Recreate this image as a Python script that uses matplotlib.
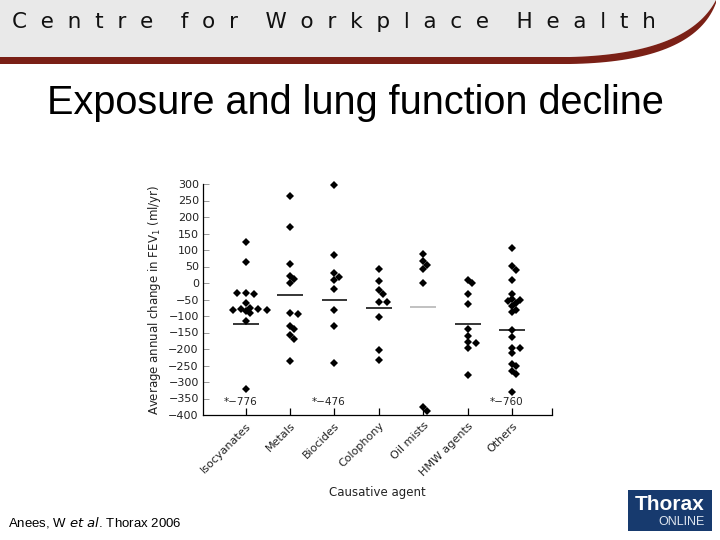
import numpy as np
import matplotlib
matplotlib.use("Agg")
import matplotlib.pyplot as plt
from matplotlib.patches import Polygon, Rectangle

# ---------------- data ----------------
categories = ["Isocyanates", "Metals", "Biocides", "Colophony", "Oil mists", "HMW agents", "Others"]

isocyanates = [125, 65, -30, -32, -30, -60, -85, -77, -79, -79, -83, -81, -92, -115, -320]
metals = [265, 171, 58, 21, 13, -1, -92, -93, -129, -139, -158, -170, -236]
biocides = [297, 84, 29, 19, 9, -17, -82, -129, -241]
colophony = [41, 6, -22, -32, -58, -58, -103, -204, -233]
oil_mists = [89, 67, 54, 43, 1, -376, -387]
hmw_agents = [9, 0, -32, -63, -138, -162, -179, -183, -198, -278]
others = [105, 51, 39, 10, -34, -48, -52, -56, -60, -70, -82, -89, -142, -165,
          -197, -197, -212, -245, -251, -268, -276, -330]

group_values = [isocyanates, metals, biocides, colophony, oil_mists, hmw_agents, others]
group_means = [-123, -37, -50, -76, -72, -124, -141]
mean_colors = ["black", "black", "black", "black", "#b0b0b0", "black", "black"]
off_scale_labels = ["*\u2212776", "", "*\u2212476", "", "", "", "*\u2212760"]

yticks = list(range(-400, 301, 50))

# ---------------- figure ----------------
fig = plt.figure(figsize=(7.2, 5.4), dpi=100)
fig.patch.set_facecolor("white")

# slide decoration in pixel space
bg = fig.add_axes([0, 0, 1, 1], zorder=-5)
bg.set_xlim(0, 720)
bg.set_ylim(540, 0)
bg.axis("off")

def bez(p0, p1, p2, n=40):
    t = np.linspace(0, 1, n)[:, None]
    return (1 - t) ** 2 * np.array(p0) + 2 * (1 - t) * t * np.array(p1) + t ** 2 * np.array(p2)

upper = bez((570, 57), (688, 54), (716, 0))
gray_poly = np.vstack([[[0, 0], [716, 0]], upper[::-1], [[0, 57]]])
bg.add_patch(Polygon(gray_poly, closed=True, facecolor="#e9e9e9", edgecolor="none"))
lower = bez((570, 64), (694, 62), (716, 3))
red_poly = np.vstack([[[0, 57]], upper, lower[::-1], [[0, 64]]])
bg.add_patch(Polygon(red_poly, closed=True, facecolor="#7a2016", edgecolor="none"))

bg.text(12, 22, "C  e  n  t  r  e    f  o  r    W  o  r  k  p  l  a  c  e    H  e  a  l  t  h",
        fontsize=15.5, family="DejaVu Sans", color="#111111", va="center", ha="left")

bg.text(355, 103, "Exposure and lung function decline", fontsize=28.5,
        family="Liberation Sans", color="black", ha="center", va="center")

bg.text(8, 522, r"Anees, W $\it{et\ al}$. Thorax 2006", fontsize=9.5,
        family="Liberation Sans", color="black", ha="left", va="center")

# Thorax ONLINE logo
bg.add_patch(Rectangle((628, 490), 84, 41, facecolor="#173a6e", edgecolor="none"))
bg.text(670, 505, "Thorax", fontsize=15, family="Liberation Sans", weight="bold",
        color="white", ha="center", va="center")
bg.text(705, 522, "ONLINE", fontsize=9, family="Liberation Sans",
        color="#dfe6f0", ha="right", va="center")

# ---------------- chart ----------------
ax = fig.add_axes([203 / 720, 1 - 415 / 540, 349 / 720, 231 / 540])
ax.set_xlim(0.04, 7.9)
ax.set_ylim(-400, 300)

px_x = 349 / (7.9 - 0.04)   # pixels per x unit
px_y = 231 / 700            # pixels per y unit

def swarm(vals, d=4.6, step=4.2):
    placed = []
    offs = []
    for v in vals:
        yv = v * px_y
        cands = [0]
        for i in range(1, 12):
            cands += [i * step, -i * step]
        for c in cands:
            ok = all((c - px) ** 2 + (yv - py) ** 2 >= d ** 2 for px, py in placed)
            if ok:
                break
        placed.append((c, yv))
        offs.append(c / px_x)
    return np.array(offs)

for i, vals in enumerate(group_values):
    pos = i + 1
    offs = swarm(vals)
    ax.plot(pos + offs, vals, linestyle="none", marker="D", markersize=3.6,
            color="black", markeredgewidth=0, clip_on=False)
    ax.hlines(group_means[i], pos - 0.29, pos + 0.29, color=mean_colors[i], lw=1.1)
    if off_scale_labels[i]:
        ax.text(pos - 0.12, -362, off_scale_labels[i], fontsize=7.5, family="DejaVu Sans",
                ha="center", va="center", color="#222222")

ax.spines["top"].set_visible(False)
ax.spines["right"].set_visible(False)
for s in ("left", "bottom"):
    ax.spines[s].set_linewidth(0.9)
    ax.spines[s].set_color("black")

ax.set_yticks(yticks)
ax.set_yticklabels([f"{t}".replace("-", "\u2212") for t in yticks], fontsize=8,
                   family="DejaVu Sans", color="#222222")
ax.tick_params(axis="y", direction="in", length=4, width=0.6, color="#888888", pad=3)

ax.set_xticks(range(1, len(categories) + 1))
ax.set_xticklabels(categories, rotation=45, ha="right", rotation_mode="anchor",
                   fontsize=8, family="DejaVu Sans", color="#222222")
ax.set_xticks([7.9], minor=True)
ax.tick_params(axis="x", which="both", direction="in", length=5, width=0.9, pad=4)

ax.set_ylabel("Average annual change in FEV$_1$ (ml/yr)", fontsize=8.5,
              family="DejaVu Sans", color="#222222", labelpad=4)
ax.set_xlabel("Causative agent", fontsize=8.5, family="DejaVu Sans", color="#222222",
              labelpad=6)

fig.savefig("out.png", dpi=100)
